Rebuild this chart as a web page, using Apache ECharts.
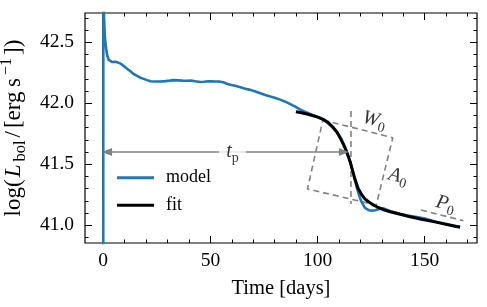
<!DOCTYPE html>
<html><head><meta charset="utf-8">
<script src="https://cdn.jsdelivr.net/npm/echarts@6/dist/echarts.min.js"></script>
<style>html,body{margin:0;padding:0;background:#fff}#c{width:487px;height:307px}</style>
</head><body><div id="c"></div>
<script>
// ---------------- data ----------------
const modelTime = [0, 0.05, 0.35, 0.7, 1.07, 1.5, 1.9, 2.6, 3.4, 4.2, 5.0, 5.7, 6.8, 8.1, 9.6, 11, 12.7, 14.2, 15.8, 17.3, 18.9, 20.5, 22, 24, 26.7, 29, 31, 32.9, 35, 37, 39.1, 41, 43, 45.3, 47, 49, 50.5, 52, 54, 56, 57.7, 59.3, 61.5, 64, 66.3, 68.6, 71, 73.3, 75.6, 78, 80.3, 82.6, 85, 87.3, 89.6, 92, 94.3, 96.6, 99, 101.3, 102.8, 105, 107, 109, 110.6, 112.1, 113.3, 114.5, 115.7, 116.8, 118, 119.1, 120.3, 121.4, 122.2, 123, 124, 125.3, 126.9, 128.4, 130.8, 133.9, 138.5, 142, 146.3, 150, 154, 158, 161.8, 164, 166.5];
const modelLogL = [38.5, 43.5, 42.72, 42.56, 42.49, 42.43, 42.39, 42.355, 42.342, 42.338, 42.342, 42.341, 42.335, 42.325, 42.306, 42.285, 42.262, 42.24, 42.225, 42.21, 42.2, 42.19, 42.181, 42.178, 42.178, 42.182, 42.186, 42.19, 42.188, 42.186, 42.185, 42.186, 42.18, 42.174, 42.176, 42.18, 42.181, 42.178, 42.179, 42.172, 42.16, 42.152, 42.143, 42.132, 42.12, 42.11, 42.097, 42.083, 42.068, 42.055, 42.043, 42.03, 42.013, 41.993, 41.973, 41.948, 41.93, 41.912, 41.895, 41.878, 41.867, 41.835, 41.803, 41.765, 41.72, 41.672, 41.62, 41.562, 41.49, 41.412, 41.33, 41.262, 41.2, 41.166, 41.142, 41.131, 41.123, 41.12, 41.123, 41.131, 41.139, 41.116, 41.095, 41.08, 41.068, 41.055, 41.036, 41.017, 41.0, 40.993, 40.988];
const fitTime = [89.9, 92, 95, 98, 100.5, 102.8, 105, 107, 109, 111, 112.9, 114, 115.2, 116.4, 117.6, 119, 120.7, 122.2, 123.8, 125.7, 127.7, 130.5, 133.9, 138.5, 143.2, 148.5, 154.1, 160, 166.5];
const fitLogL = [41.931, 41.925, 41.912, 41.898, 41.885, 41.866, 41.842, 41.808, 41.765, 41.703, 41.631, 41.58, 41.521, 41.446, 41.371, 41.3, 41.248, 41.215, 41.193, 41.17, 41.152, 41.13, 41.111, 41.09, 41.07, 41.05, 41.03, 41.008, 40.984];
// annotation geometry (data coordinates)
const boxTime = [102.5, 135.1, 127.4, 95.3, 102.5];
const boxLogL = [41.863, 41.718, 41.166, 41.298, 41.863];
const tpLineTime = [115.6, 115.6];
const tpLineLogL = [41.937, 41.175];
const p0LineTime = [148.3, 168.0];
const p0LineLogL = [41.125, 41.038];
const arrowTime = [1.8, 112.3];
const arrowLogL = [41.6, 41.6];
const labelNames = ['tp', 'W0', 'A0', 'P0'];
const labelTime = [60.3, 126.5, 137.6, 159.7];
const labelLogL = [41.601, 41.862, 41.40, 41.175];
// axes / ticks
const xRange = [-8.5, 174.4];
const yRange = [40.855, 42.74];
const xMajor = [0, 50, 100, 150];
const xMinor = [10, 20, 30, 40, 60, 70, 80, 90, 110, 120, 130, 140, 160, 170];
const yMajor = [41.0, 41.5, 42.0, 42.5];
const yMinor = [40.9, 41.1, 41.2, 41.3, 41.4, 41.6, 41.7, 41.8, 41.9, 42.1, 42.2, 42.3, 42.4, 42.6, 42.7];
const xTitle = 'Time [days]';
const seriesNames = ['model', 'fit'];

// ---------------- chart ----------------
const FONT = 'Liberation Serif';
const zip = (a, b) => a.map((v, i) => [v, b[i]]);
const chart = echarts.init(document.getElementById('c'), null, {renderer: 'canvas'});

function xAxis(pos, vals, len, labels, extra) {
  return Object.assign({
    type: 'value', position: pos, min: xRange[0], max: xRange[1],
    axisLine: {show: false, onZero: false}, splitLine: {show: false},
    axisTick: {show: true, inside: true, length: len, customValues: vals, lineStyle: {color: '#000', width: 1}},
    axisLabel: {show: labels, customValues: vals, margin: 8, color: '#000', fontFamily: FONT, fontSize: 19.5,
      formatter: v => String(v)}
  }, extra || {});
}
function yAxis(pos, vals, len, labels, extra) {
  return Object.assign({
    type: 'value', position: pos, min: yRange[0], max: yRange[1],
    axisLine: {show: false, onZero: false}, splitLine: {show: false},
    axisTick: {show: true, inside: true, length: len, customValues: vals, lineStyle: {color: '#000', width: 1}},
    axisLabel: {show: labels, customValues: vals, margin: 11, color: '#000', fontFamily: FONT, fontSize: 19.5,
      formatter: v => v.toFixed(1)}
  }, extra || {});
}

const richBase = {
  n: {fontFamily: FONT, fontSize: 20, color: '#000', lineHeight: 26},
  i: {fontFamily: FONT, fontSize: 20, fontStyle: 'italic', color: '#000', lineHeight: 26},
  s: {fontFamily: FONT, fontSize: 14, color: '#000', lineHeight: 16, verticalAlign: 'bottom'},
  p: {fontFamily: FONT, fontSize: 14, color: '#000', lineHeight: 16, verticalAlign: 'top'}
};
const richY = {
  n: {fontFamily: FONT, fontSize: 23, color: '#000', lineHeight: 30},
  i: {fontFamily: FONT, fontSize: 23, fontStyle: 'italic', color: '#000', lineHeight: 30, padding: [0, 3, 0, 2]},
  sl: {fontFamily: FONT, fontSize: 23, color: '#000', lineHeight: 30, padding: [0, 3, 0, 3]},
  s: {fontFamily: FONT, fontSize: 16.5, color: '#000', lineHeight: 19, verticalAlign: 'bottom'},
  p: {fontFamily: FONT, fontSize: 16, color: '#000', lineHeight: 19, verticalAlign: 'top', padding: [0, 3, 0, 3]}
};
const labelText = {
  tp: '{i|t}{s|p}', W0: '{i|W}{s|0}', A0: '{i|A}{s|0}', P0: '{i|P}{s|0}'
};
const labelRot = {tp: 0, W0: -14, A0: -14, P0: -14};

const gray = '#808080';
const dashed = {color: gray, width: 1.6, type: [6, 4]};

const option = {
  animation: false,
  backgroundColor: '#fff',
  grid: {left: 85, top: 13, width: 392, height: 230, show: true, borderColor: '#000', borderWidth: 1.2,
    containLabel: false, outerBoundsMode: 'none'},
  legend: {
    data: seriesNames, orient: 'vertical', left: 112, top: 163.7,
    itemWidth: 37, itemHeight: 3, itemGap: 9.6, icon: 'rect',
    textStyle: {fontFamily: FONT, fontSize: 18, color: '#000', padding: [0, 0, 0, 7], lineHeight: 14}
  },
  xAxis: [
    xAxis('bottom', xMajor, 7, true, {
      name: xTitle, nameLocation: 'middle', nameGap: 35,
      nameTextStyle: {fontFamily: FONT, fontSize: 20.5, color: '#000'}
    }),
    xAxis('bottom', xMinor, 3.5, false),
    xAxis('top', xMajor, 7, false),
    xAxis('top', xMinor, 3.5, false)
  ],
  yAxis: [
    yAxis('left', yMajor, 7, true, {
      name: '{n|log(}{i|L}{s|bol}{sl|/}{n|[erg\u2009s}{p|\u22121}{n|])}',
      nameLocation: 'middle', nameRotate: 90, nameGap: 52,
      nameTextStyle: {rich: richY}
    }),
    yAxis('left', yMinor, 3.5, false),
    yAxis('right', yMajor, 7, false),
    yAxis('right', yMinor, 3.5, false)
  ],
  series: [
    {type: 'line', name: 'box', data: zip(boxTime, boxLogL), symbol: 'none', lineStyle: dashed, z: 1, silent: true},
    {type: 'line', name: 'tpline', data: zip(tpLineTime, tpLineLogL), symbol: 'none', lineStyle: dashed, z: 1, silent: true},
    {type: 'line', name: 'p0line', data: zip(p0LineTime, p0LineLogL), symbol: 'none', lineStyle: dashed, z: 1, silent: true},
    {type: 'line', name: 'model', data: zip(modelTime, modelLogL), symbol: 'none', color: '#1f77b4',
      lineStyle: {color: '#1f77b4', width: 2.6}, z: 3},
    {type: 'line', name: 'fit', data: zip(fitTime, fitLogL), symbol: 'none', color: '#000',
      lineStyle: {color: '#000', width: 3}, z: 4},
    {type: 'line', name: 'arrow', data: [], symbol: 'none', z: 5, silent: true,
      markLine: {
        silent: true, symbol: ['triangle', 'triangle'], symbolSize: [8, 10],
        label: {show: false},
        lineStyle: {color: gray, width: 1.6, type: 'solid'},
        data: [[{coord: [arrowTime[0], arrowLogL[0]]}, {coord: [arrowTime[1], arrowLogL[1]]}]]
      }},
    {type: 'scatter', name: 'labels', z: 20, symbolSize: 1, itemStyle: {color: 'rgba(0,0,0,0)'}, silent: true,
      data: labelNames.map((n, k) => ({value: [labelTime[k], labelLogL[k]], name: n,
        label: {show: true, position: 'inside', rotate: labelRot[n], formatter: labelText[n],
          backgroundColor: n === 'tp' ? '#fff' : 'transparent', padding: n === 'tp' ? [0, 7] : 0,
          rich: richBase}}))}
  ]
};
chart.setOption(option);
</script>
</body></html>
